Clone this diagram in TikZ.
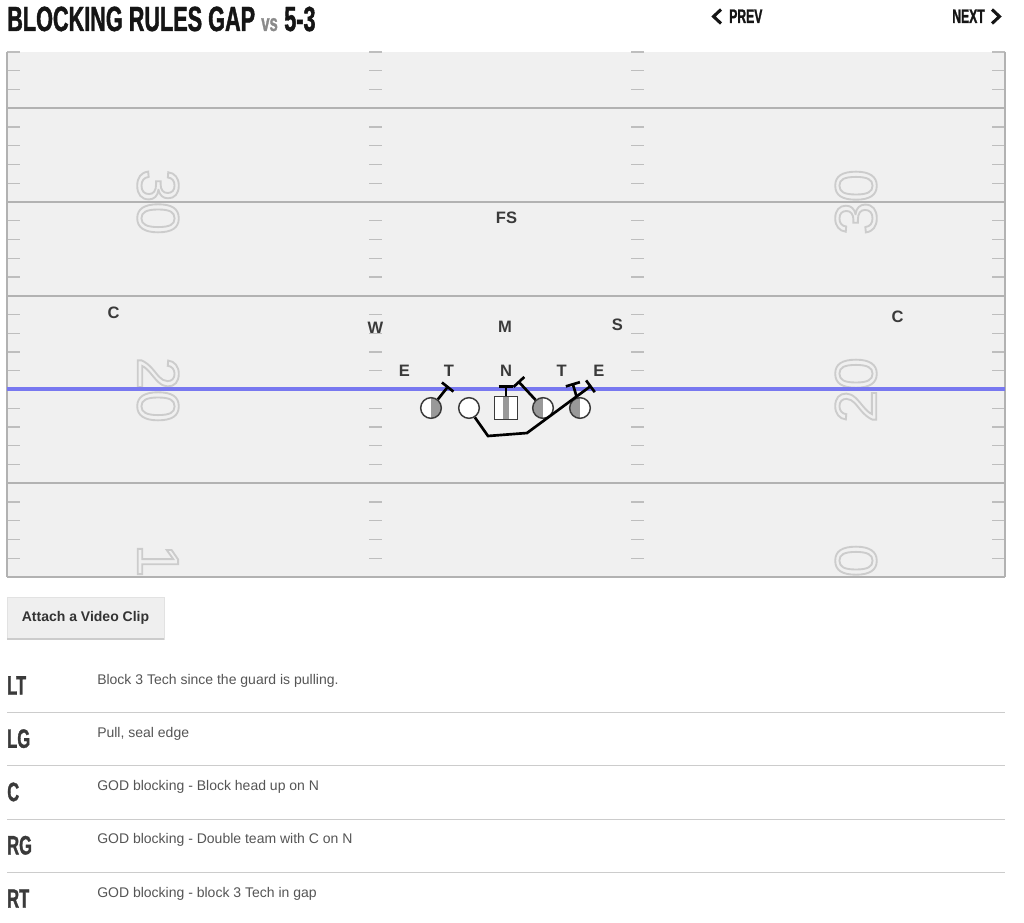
\documentclass[tikz,border=0pt]{standalone}
\usepackage{fontspec}
\setmainfont{Liberation Sans}
\newfontfamily\condfont[FakeStretch=0.62, FakeBold=1.2]{Liberation Sans Bold}
\usepackage{tikz}
\usetikzlibrary{arrows.meta}
\usepackage{xcolor}
\definecolor{fieldgray}{HTML}{F0F0F0}
\definecolor{linegray}{HTML}{B2B2B2}
\definecolor{hashgray}{HTML}{BEBEBE}
\definecolor{losblue}{HTML}{7878F0}
\definecolor{inkgray}{HTML}{3A3A3A}
\definecolor{halfgray}{HTML}{999999}
\definecolor{notegray}{HTML}{555555}
\definecolor{rulegray}{HTML}{CCCCCC}
\definecolor{vsgray}{HTML}{8A8A8A}
\definecolor{headblack}{HTML}{151515}
% stroked (hollow) yard numbers
\newcommand{\hollowon}{\special{pdf:literal 1 Tr 1.4 w 0.8 G}}
\newcommand{\hollowoff}{\special{pdf:literal 0 Tr}}
\tikzset{
  headtext/.style={inner sep=0pt, text=headblack, font=\condfont\fontsize{26.2pt}{28pt}\selectfont},
  navtext/.style={inner sep=0pt, text=headblack, font=\condfont\fontsize{14.7pt}{16pt}\selectfont},
  chevron/.style={draw=headblack, line width=2.3pt},
  yardline/.style={draw=linegray, line width=1.5pt},
  hashmark/.style={draw=hashgray, line width=0.9pt},
  numeral/.style={inner sep=0pt, font=\fontsize{44pt}{44pt}\selectfont},
  defender/.style={inner sep=0pt, text=inkgray, font=\bfseries\fontsize{12.4pt}{13pt}\selectfont},
  lineman/.style={circle, draw=inkgray, line width=1.1pt, fill=white, minimum size=15.5pt, inner sep=0pt},
  halfright/.style={lineman, path picture={\fill[halfgray] (path picture bounding box.north) rectangle (path picture bounding box.south east);}},
  halfleft/.style={lineman, path picture={\fill[halfgray] (path picture bounding box.south west) rectangle (path picture bounding box.north);}},
  snapper/.style={rectangle, draw=inkgray, line width=1.1pt, fill=white, minimum size=17pt, inner sep=0pt,
    path picture={\fill[halfgray] ([xshift=-2.2pt]path picture bounding box.north) rectangle ([xshift=2.2pt]path picture bounding box.south);}},
  block/.style={draw=black, line width=2pt, -{Bar[width=11pt]}},
  rowlabel/.style={inner sep=0pt, text=inkgray, font=\condfont\fontsize{19.9pt}{21pt}\selectfont},
  rownote/.style={inner sep=0pt, text=notegray, font=\fontsize{10.5pt}{12pt}\selectfont},
}
\begin{document}
\begin{tikzpicture}[x=0.75pt, y=-0.75pt]
  \fill[white] (0,0) rectangle (1024,923);
  \useasboundingbox (0,0) rectangle (1024,923);

  % heading
  \node[headtext, anchor=base west] (title) at (7,31) {BLOCKING RULES GAP};
  \node[inner sep=0pt, anchor=base west, text=vsgray, font=\condfont\fontsize{18pt}{19pt}\selectfont] (vs) at (261,31) {vs};
  \node[headtext, anchor=base west] (front) at (284,31) {5-3};
  \draw[chevron] (721,9.5) -- (713.5,16.5) -- (721,23.5);
  \node[navtext, anchor=base west] (prev) at (729,23) {PREV};
  \node[navtext, anchor=base east] (next) at (985,23) {NEXT};
  \draw[chevron] (992,9.5) -- (999.5,16.5) -- (992,23.5);

  % field
  \fill[fieldgray] (7,52) rectangle (1005,577);
  \begin{scope}
    \clip (7,52) rectangle (1005,577);
    \node[numeral, rotate=-90] (lthirty) at (158,202) {\hollowon 30\hollowoff};
    \node[numeral, rotate=-90] (ltwenty) at (158,390) {\hollowon 20\hollowoff};
    \node[numeral, rotate=-90] (lten) at (158,577) {\hollowon 10\hollowoff};
    \node[numeral, rotate=90] (rthirty) at (856,202) {\hollowon 30\hollowoff};
    \node[numeral, rotate=90] (rtwenty) at (856,390) {\hollowon 20\hollowoff};
    \node[numeral, rotate=90] (rten) at (856,577) {\hollowon 10\hollowoff};
  \end{scope}
  \foreach \k in {0,...,27} {
    \pgfmathtruncatemacro\r{mod(\k,5)}
    \ifnum\r=3\relax\else
      \foreach \hx in {7,369,631,992}
        \draw[hashmark] (\hx,{52+\k*18.75}) -- ++(13,0);
    \fi
  }
  \foreach \yl in {108.25,202,295.75,389.5,483.25,577}
    \draw[yardline] (7,\yl) -- (1005,\yl);
  \draw[yardline] (7,52) -- (7,577);
  \draw[yardline] (1005,52) -- (1005,577);
  \draw[losblue, line width=2.3pt] (7,389) -- (1005,389);

  % defense
  \node[defender, anchor=base] (fs) at (506.5,224) {FS};
  \node[defender, anchor=base] (lcb) at (113.5,318.5) {C};
  \node[defender, anchor=base] (rcb) at (897.5,322.5) {C};
  \node[defender, anchor=base] (will) at (375.5,334) {W};
  \node[defender, anchor=base] (mike) at (505,333) {M};
  \node[defender, anchor=base] (sam) at (617.5,331) {S};
  \node[defender, anchor=base] (lend) at (404.5,377) {E};
  \node[defender, anchor=base] (ltack) at (449,377) {T};
  \node[defender, anchor=base] (nose) at (506,377) {N};
  \node[defender, anchor=base] (rtack) at (561.7,377) {T};
  \node[defender, anchor=base] (rend) at (599,377) {E};

  % offensive line
  \node[halfright] (lt) at (431,408) {};
  \node[lineman] (lg) at (469,408) {};
  \node[snapper] (c) at (506,408) {};
  \node[halfleft] (rg) at (543,408) {};
  \node[halfleft] (rt) at (580,408) {};

  % blocks
  \coordinate (ltend) at (448.5,386);
  \coordinate (cend) at (506,385);
  \coordinate (rgend) at (518,381);
  \coordinate (rtend) at (572.5,383);
  \coordinate (pulla) at (488,436);
  \coordinate (pullb) at (527,433);
  \coordinate (lgend) at (591.5,385.5);
  \draw[block] (lt) -- (ltend);
  \draw[block] (c.north) -- (cend);
  \draw[block] (rg) -- (rgend);
  \draw[block] (rt) -- (rtend);
  \draw[block] (lg.-58) -- (pulla) -- (pullb) -- (lgend);

  % video button
  \node[rectangle, draw={rgb,255:red,226;green,226;blue,226}, fill={rgb,255:red,239;green,239;blue,239},
        minimum width=117.5pt, minimum height=31.5pt, inner sep=0pt,
        text={rgb,255:red,51;green,51;blue,51}, font=\bfseries\fontsize{10.5pt}{12pt}\selectfont] (attach) at (85.5,618) {Attach a Video Clip};
  \draw[rulegray, line width=1.2pt] (attach.south west) -- (attach.south east);

  % assignments
  \foreach \pos/\note [count=\i from 0] in {LT/{Block 3 Tech since the guard is pulling.}, LG/{Pull, seal edge},
      C/{GOD blocking - Block head up on N}, RG/{GOD blocking - Double team with C on N}, RT/{GOD blocking - block 3 Tech in gap}} {
    \node[rowlabel, anchor=base west] (pos\i) at (7,{694.5+53.3*\i}) {\pos};
    \node[rownote, anchor=base west] (note\i) at (97,{684+53.3*\i}) {\note};
  }
  \foreach \i in {0,...,3}
    \draw[rulegray, line width=0.9pt] (7,{712.3+53.4*\i}) -- (1005,{712.3+53.4*\i});
\end{tikzpicture}
\end{document}
